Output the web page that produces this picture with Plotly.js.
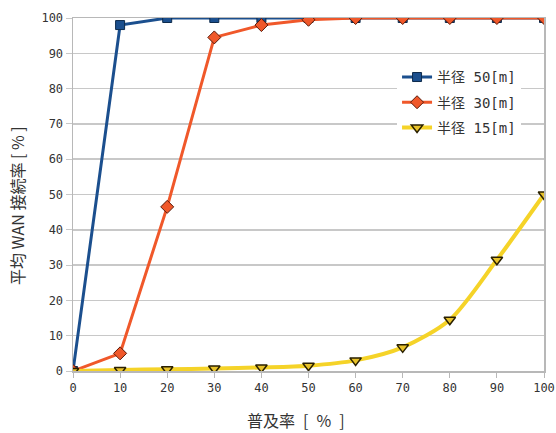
<!DOCTYPE html>
<html>
<head>
<meta charset="utf-8">
<script src="https://cdn.plot.ly/plotly-3.0.1.min.js"></script>
<style>html,body{margin:0;padding:0;background:#fff;}#chart{width:556px;height:433px;}</style>
</head>
<body>
<div id="chart"></div>
<script>
// 普及率 (x) and average WAN connectivity per radius
const penetration = [0, 10, 20, 30, 40, 50, 60, 70, 80, 90, 100];
const radius50 = [0, 98, 100, 100, 100, 100, 100, 100, 100, 100, 100];
const radius30 = [0, 5, 46.5, 94.5, 98, 99.5, 100, 100, 100, 100, 100];
const radius15 = [0, 0.3, 0.5, 0.7, 1, 1.5, 3, 6.7, 14.5, 31.5, 50];
const seriesNames = ['半径 50[m]', '半径 30[m]', '半径 15[m]'];
const xTicks = [0, 10, 20, 30, 40, 50, 60, 70, 80, 90, 100];
const yTicks = [0, 10, 20, 30, 40, 50, 60, 70, 80, 90, 100];
const xTitle = '普及率\u2002[\u2002%\u2002]';
const yTitle = '平均 WAN 接続率 [ % ]';

const traces = [
  {
    x: penetration, y: radius50, name: seriesNames[0], legendgroup: 'r50', mode: 'lines+markers',
    line: {color: '#1b4f8e', width: 3},
    marker: {symbol: 'square', size: 9, color: '#1b4f8e', line: {color: '#0d2a4c', width: 1}}
  },
  {
    x: penetration, y: radius30, name: seriesNames[1], legendgroup: 'r30', mode: 'lines+markers',
    line: {color: '#f0582a', width: 3},
    marker: {symbol: 'diamond', size: 10, color: '#f0582a', line: {color: '#5a1a0a', width: 1}}
  },
  {
    x: penetration, y: radius15, name: seriesNames[2], legendgroup: 'r15', mode: 'lines+markers',
    line: {color: '#f5d328', width: 4, shape: 'spline', smoothing: 0.8},
    marker: {symbol: 'triangle-down', size: 10, color: '#e8c22a', line: {color: '#2a2000', width: 1.5}}
  }
];

const tickFont = {family: '"DejaVu Sans Mono", monospace', size: 12, color: '#333'};
const titleFont = {family: '"Noto Sans CJK JP", sans-serif', size: 16, color: '#333'};

const layout = {
  width: 556, height: 433,
  margin: {l: 73, r: 12, t: 18, b: 62},
  paper_bgcolor: '#fff', plot_bgcolor: '#fff',
  showlegend: true,
  legend: {
    x: 0.688, y: 0.877, xanchor: 'left', yanchor: 'top',
    bgcolor: '#fff', borderwidth: 0,
    traceorder: 'grouped', tracegroupgap: 4,
    font: {family: '"DejaVu Sans Mono", "Noto Sans CJK JP", monospace', size: 14, color: '#333'},
    itemwidth: 30
  },
  xaxis: {
    range: [0, 100], tickvals: xTicks, ticktext: xTicks.map(String),
    showgrid: false, zeroline: false,
    showline: true, linecolor: '#b8b8b8', linewidth: 1.5, mirror: true,
    ticks: 'outside', ticklen: 5, tickcolor: '#b8b8b8',
    tickfont: tickFont
  },
  yaxis: {
    range: [0, 100], tickvals: yTicks, ticktext: yTicks.map(String),
    showgrid: true, gridcolor: '#c8c8c8', gridwidth: 1.5, zeroline: false,
    showline: true, linecolor: '#b8b8b8', linewidth: 1.5, mirror: true,
    ticks: 'outside', ticklen: 6, tickcolor: '#c8c8c8',
    tickfont: tickFont
  },
  // axis titles placed as annotations for exact positioning
  annotations: [
    {text: xTitle, xref: 'paper', yref: 'paper', x: 0.4745, y: -0.138,
     xanchor: 'center', yanchor: 'middle', showarrow: false, font: titleFont},
    {text: yTitle, xref: 'paper', yref: 'paper', x: -0.119, y: 0.47, textangle: -90,
     xanchor: 'center', yanchor: 'middle', showarrow: false, font: titleFont}
  ]
};

Plotly.newPlot('chart', traces, layout, {displayModeBar: false, staticPlot: true});
</script>
</body>
</html>
